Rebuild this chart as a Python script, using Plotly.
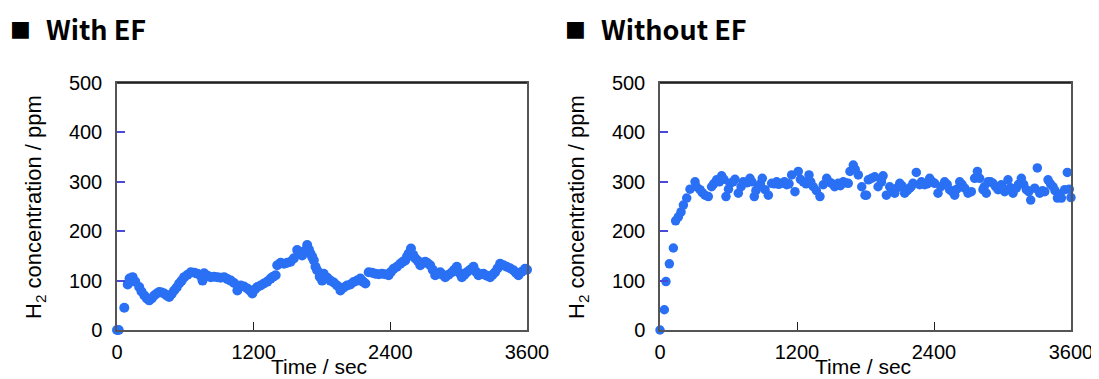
import plotly.graph_objects as go

# ---------------- data ----------------
t_with = [0, 15, 64, 94, 110, 137, 160, 195, 215, 240, 262, 283, 305, 327, 350, 371, 392, 414, 436, 458,
          480, 502, 524, 546, 568, 590, 620, 648, 680, 707, 735, 751, 765, 795, 823, 852, 882, 910, 940, 970,
          999, 1028, 1057, 1086, 1115, 1145, 1166, 1188, 1210, 1232, 1261, 1290, 1320, 1349, 1371, 1393, 1407,
          1437, 1466, 1495, 1524, 1553, 1582, 1604, 1626, 1648, 1670, 1685, 1699, 1714, 1728, 1743, 1757, 1780,
          1801, 1815, 1845, 1874, 1903, 1932, 1962, 1991, 2020, 2049, 2078, 2108, 2137, 2160, 2181, 2210, 2240,
          2268, 2298, 2327, 2356, 2385, 2407, 2429, 2458, 2488, 2510, 2531, 2546, 2561, 2581, 2600, 2619, 2641,
          2663, 2685, 2707, 2728, 2750, 2772, 2794, 2816, 2838, 2860, 2882, 2911, 2941, 2962, 2984, 3006, 3028,
          3050, 3072, 3101, 3130, 3152, 3174, 3196, 3218, 3247, 3276, 3298, 3320, 3342, 3364, 3393, 3422, 3451,
          3481, 3503, 3525, 3554, 3583, 3600]
h2_with = [0, 0, 45, 92, 104, 107, 98, 87, 78, 70, 64, 60, 64, 70, 74, 77, 76, 74, 70, 67,
           73, 80, 86, 94, 100, 107, 112, 117, 116, 114, 110, 100, 115, 110, 107, 108, 107, 106, 107, 103,
           100, 95, 80, 90, 88, 84, 80, 74, 82, 87, 90, 94, 98, 104, 108, 111, 131,
           136, 134, 136, 138, 145, 162, 158, 151, 160, 172, 163, 155, 148, 141, 128, 121, 108,
           100, 114, 106, 100, 96, 90, 80, 86, 90, 92, 97, 100, 104, 98, 94, 117, 116,
           114, 113, 114, 113, 111, 118, 124, 128, 134, 138, 141, 148, 155, 165, 152, 145, 140,
           131, 136, 138, 135, 131, 122, 111, 114, 117, 112, 107, 112, 117, 122, 128, 116, 107,
           112, 117, 122, 128, 118, 111, 113, 114, 110, 107, 112, 117, 125, 134, 131, 128, 125,
           121, 116, 111, 118, 124, 122]

t_without = [0, 38, 52, 82, 117, 137, 161, 184, 205, 234, 263, 307, 320, 350, 370, 394, 423, 452, 470, 496,
             520, 540, 560, 578, 600, 613, 640, 657, 686, 710, 730, 760, 788, 805, 826, 840, 861, 880, 896, 920,
             949, 978, 1000, 1022, 1040, 1066, 1090, 1110, 1130, 1153, 1182, 1211, 1230, 1255, 1280, 1305, 1320,
             1343, 1370, 1401, 1430, 1460, 1480, 1503, 1530, 1561, 1580, 1605, 1625, 1649, 1664, 1693, 1710, 1737,
             1767, 1796, 1808, 1825, 1852, 1881, 1910, 1940, 1954, 1983, 2012, 2030, 2056, 2080, 2100, 2120, 2143,
             2165, 2187, 2200, 2216, 2245, 2274, 2290, 2318, 2340, 2362, 2385, 2406, 2435, 2460, 2493, 2515, 2537,
             2560, 2581, 2600, 2625, 2645, 2669, 2698, 2727, 2756, 2780, 2800, 2829, 2840, 2858, 2873, 2895, 2917,
             2940, 2961, 2990, 3005, 3019, 3048, 3070, 3092, 3121, 3140, 3165, 3185, 3209, 3230, 3247, 3282, 3305,
             3326, 3350, 3370, 3399, 3420, 3443, 3460, 3481, 3500, 3516, 3545, 3568, 3585, 3600]
h2_without = [0, 41, 98, 134, 166, 221, 229, 239, 253, 267, 285, 300, 290, 284, 278, 273, 270, 290, 296, 304,
              300, 312, 305, 270, 285, 297, 300, 305, 277, 290, 300, 298, 307, 300, 270, 282, 290, 296, 307, 284,
              273, 297, 296, 300, 295, 297, 300, 294, 296, 314, 280, 321, 305, 300, 296, 314, 300,
              290, 282, 270, 294, 307, 300, 297, 290, 297, 292, 300, 298, 297, 321, 334, 325, 314,
              290, 273, 273, 304, 307, 310, 290, 300, 312, 273, 290, 283, 277, 288, 297, 292, 277,
              282, 287, 290, 297, 319, 294, 300, 294, 296, 307, 300, 297, 277, 290, 300, 295, 284,
              280, 273, 285, 300, 295, 287, 277, 280, 307, 321, 307, 284, 290, 277, 300, 300, 297,
              290, 284, 294, 286, 280, 304, 288, 277, 287, 295, 307, 295, 284, 280, 263, 287, 328,
              277, 282, 280, 304, 296, 290, 282, 267, 275, 267, 284, 319, 285, 268]

x_ticks = [0, 1200, 2400, 3600]
y_ticks = [0, 100, 200, 300, 400, 500]
panel_titles = ["With EF", "Without EF"]
title_mark = "■"
x_title = "Time / sec"
y_title = "H<sub>2</sub> concentration / ppm"

# ---------------- styling ----------------
OFF = 8                      # page body margin of the html page
W, H = 1099 - OFF, 379 - OFF
BLUE = "#2a70f4"
TICKFONT = dict(family="Liberation Sans, Arial, sans-serif", size=20, color="#000000")
TITLEFONT = dict(family="Liberation Sans, Arial, sans-serif", size=21, color="#000000")

# positions in window pixels
px_left = (117, 527)
px_right = (660, 1071)
px_top, px_bottom = 83, 330


def fx(p):
    return (p - OFF) / W


def fy(p):
    return 1 - (p - OFF) / H


fig = go.Figure()
fig.add_trace(go.Scatter(x=t_with, y=h2_with, mode="markers", xaxis="x", yaxis="y",
                         marker=dict(color=BLUE, size=10, line=dict(width=0)),
                         cliponaxis=False, showlegend=False))
fig.add_trace(go.Scatter(x=t_without, y=h2_without, mode="markers", xaxis="x2", yaxis="y2",
                         marker=dict(color=BLUE, size=9.5, line=dict(width=0)),
                         cliponaxis=False, showlegend=False))

xcommon = dict(range=[0, 3600], tickvals=x_ticks, ticks="inside", ticklen=8, tickcolor="#222222",
               tickwidth=1, showline=True, linecolor="#555555", linewidth=1.5, mirror=True,
               showgrid=False, zeroline=False, tickfont=TICKFONT, ticklabelstandoff=3,
               automargin=False)
ycommon = dict(range=[0, 500], tickvals=y_ticks, ticks="inside", ticklen=8, tickcolor="#4a4ad8",
               tickwidth=1.5, showline=True, linecolor="#555555", linewidth=1.5, mirror=True,
               showgrid=False, zeroline=False, tickfont=TICKFONT, ticklabelstandoff=9,
               automargin=False, domain=[fy(px_bottom), fy(px_top)])

fig.update_layout(
    width=W, height=H,
    margin=dict(l=0, r=0, t=0, b=0, pad=0, autoexpand=False),
    paper_bgcolor="white", plot_bgcolor="white",
    showlegend=False,
    xaxis=dict(domain=[fx(px_left[0]), fx(px_left[1])], anchor="y", **xcommon),
    yaxis=dict(anchor="x", **ycommon),
    xaxis2=dict(domain=[fx(px_right[0]), fx(px_right[1])], anchor="y2", **xcommon),
    yaxis2=dict(anchor="x2", **ycommon),
)

# top border in black
for x0, x1 in (px_left, px_right):
    fig.add_shape(type="line", xref="paper", yref="paper", x0=fx(x0), x1=fx(x1),
                  y0=fy(px_top), y1=fy(px_top), line=dict(color="#111111", width=1.5))

annotations = []
mark_x = [8, 563]
title_x = [44, 599]
for i, (x0, x1) in enumerate((px_left, px_right)):
    annotations.append(dict(text=title_mark, xref="paper", yref="paper",
                            x=fx(mark_x[i]), y=fy(29), xanchor="left", yanchor="middle",
                            showarrow=False,
                            font=dict(family="DejaVu Sans", size=22, color="#000000")))
    annotations.append(dict(text=panel_titles[i], xref="paper", yref="paper",
                            x=fx(title_x[i]), y=fy(28), xanchor="left", yanchor="middle",
                            showarrow=False,
                            font=dict(family="Noto Sans CJK JP, Noto Sans", size=27, color="#000000",
                                      weight="bold")))
    annotations.append(dict(text=x_title, xref="paper", yref="paper",
                            x=fx((x0 + x1) / 2 - 3), y=fy(366), xanchor="center", yanchor="middle",
                            showarrow=False, font=TITLEFONT))
    annotations.append(dict(text=y_title, xref="paper", yref="paper",
                            x=fx(x0 - 82), y=fy(207), xanchor="center", yanchor="middle",
                            textangle=-90, showarrow=False,
                            font=dict(family="Liberation Sans, Arial, sans-serif", size=22,
                                      color="#000000")))
fig.update_layout(annotations=annotations)

fig.write_html("out.html")
